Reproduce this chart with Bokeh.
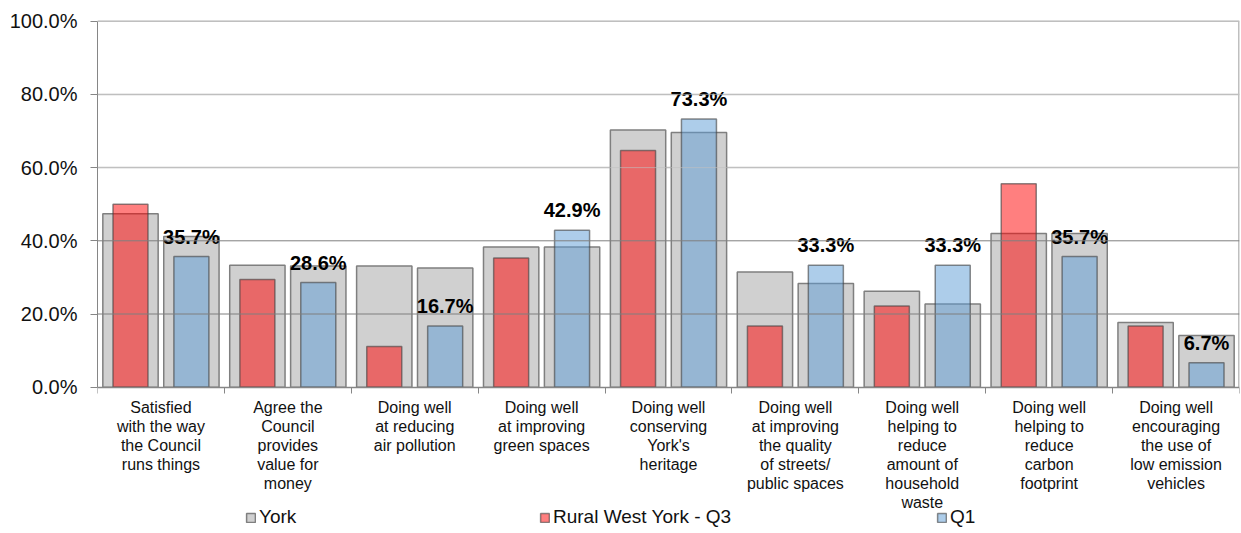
import numpy as np
from bokeh.plotting import figure
from bokeh.models import (Range1d, FixedTicker, CustomJSTickFormatter, PrintfTickFormatter,
                          Span, LabelSet, ColumnDataSource, Legend, LegendItem)
from bokeh.core.properties import value
from bokeh.embed import file_html
from bokeh.resources import INLINE

# ---------------- data ----------------
categories = [
    "Satisfied\nwith the way\nthe Council\nruns things",
    "Agree the\nCouncil\nprovides\nvalue for\nmoney",
    "Doing well\nat reducing\nair pollution",
    "Doing well\nat improving\ngreen spaces",
    "Doing well\nconserving\nYork's\nheritage",
    "Doing well\nat improving\nthe quality\nof streets/\npublic spaces",
    "Doing well\nhelping to\nreduce\namount of\nhousehold\nwaste",
    "Doing well\nhelping to\nreduce\ncarbon\nfootprint",
    "Doing well\nencouraging\nthe use of\nlow emission\nvehicles",
]
york_q3 = [47.4, 33.3, 33.1, 38.3, 70.3, 31.5, 26.2, 42.0, 17.7]
york_q1 = [41.2, 33.1, 32.6, 38.3, 69.6, 28.3, 22.7, 42.0, 14.1]
rural_q3 = [50.0, 29.4, 11.1, 35.3, 64.7, 16.7, 22.2, 55.6, 16.7]
q1 = [35.7, 28.6, 16.7, 42.9, 73.3, 33.3, 33.3, 35.7, 6.7]
y_ticks = [0, 20, 40, 60, 80, 100]
series_names = ["York", "Rural West York - Q3", "Q1"]

# ---------------- layout params ----------------
OFF = 0.24
WIDE = 0.436
NARROW = 0.276
FONT = "Liberation Sans"
W, H = 1241, 533
FRAME_TOP = 17          # px from top of canvas
ZERO_PX = 386.7         # where 0% sits
TOP_PX = 20.7           # where 100% sits

n = len(categories)
centers = np.arange(n) + 0.5
px_per_unit = (ZERO_PX - TOP_PX) / (y_ticks[-1] - y_ticks[0])
y_end = y_ticks[-1] + (TOP_PX - FRAME_TOP) / px_per_unit
y_start = y_ticks[0] - (H - ZERO_PX) / px_per_unit

p = figure(width=W, height=H, output_backend="svg", toolbar_location=None,
           x_range=Range1d(0, n), y_range=Range1d(y_start, y_end),
           min_border_left=97, min_border_right=2, min_border_top=FRAME_TOP,
           min_border_bottom=0)
p.outline_line_color = None
p.xgrid.grid_line_color = None
p.ygrid.grid_line_color = None
p.background_fill_color = "white"
p.border_fill_color = "white"

grey_src = ColumnDataSource(dict(x=np.concatenate([centers - OFF, centers + OFF]),
                                 top=np.array(york_q3 + york_q1)))
red_src = ColumnDataSource(dict(x=centers - OFF, top=rural_q3))
blue_src = ColumnDataSource(dict(x=centers + OFF, top=q1,
                                 lbl=[f"{v:.1f}%" for v in q1]))

# light grid lines behind / right border of the plot area
for t in y_ticks[1:]:
    if t > 40:
        p.add_layout(Span(location=t, dimension="width", line_color="#bfbfbf",
                          line_width=1.5, level="underlay"))
p.segment(x0=[n], x1=[n], y0=[y_ticks[0]], y1=[y_ticks[-1]],
          line_color="#bfbfbf", line_width=3)

r_grey = p.vbar(x="x", top="top", bottom=0, width=WIDE, source=grey_src,
                fill_color="#d0d0d0", line_color="#7f7f7f", line_width=1.5)
r_red = p.vbar(x="x", top="top", bottom=0, width=NARROW, source=red_src,
               fill_color="#ff0000", fill_alpha=0.5, line_color="#404040",
               line_alpha=0.6, line_width=1.5)
r_blue = p.vbar(x="x", top="top", bottom=0, width=NARROW, source=blue_src,
                fill_color="#5b9bd5", fill_alpha=0.5, line_color="#404040",
                line_alpha=0.6, line_width=1.5)

# dark grid lines drawn over the bars
for t in y_ticks[1:]:
    if t <= 40:
        p.add_layout(Span(location=t, dimension="width", line_color="#7f7f7f",
                          line_width=1, level="overlay"))
    else:
        p.add_layout(Span(location=t, dimension="width", line_color="#bfbfbf",
                          line_width=1, line_alpha=0.6, level="overlay"))

labels = LabelSet(x="x", y="top", text="lbl", source=blue_src, y_offset=20,
                  text_align="center", text_baseline="middle",
                  text_font=value(FONT), text_font_style="bold",
                  text_font_size="20px", text_color="black")
p.add_layout(labels)

# y axis
p.yaxis.ticker = FixedTicker(ticks=y_ticks)
p.yaxis.bounds = (y_ticks[0], y_ticks[-1])
p.yaxis.formatter = PrintfTickFormatter(format="%.1f%%")
p.yaxis.axis_line_color = "#868686"
p.yaxis.major_tick_line_color = "#868686"
p.yaxis.major_tick_out = 7
p.yaxis.major_tick_in = 0
p.yaxis.minor_tick_line_color = None
p.yaxis.major_label_text_font = FONT
p.yaxis.major_label_text_font_size = "20px"
p.yaxis.major_label_text_color = "#111111"
p.yaxis.major_label_standoff = 13

# x axis (drawn at 0%)
p.xaxis.fixed_location = y_ticks[0]
p.xaxis.ticker = FixedTicker(ticks=list(centers), minor_ticks=list(range(n + 1)))
p.xaxis.formatter = CustomJSTickFormatter(args=dict(labels=categories),
                                          code="return labels[Math.floor(tick)] || '';")
p.xaxis.axis_line_color = "#868686"
p.xaxis.axis_line_width = 1.5
p.xaxis.major_tick_line_color = None
p.xaxis.major_tick_out = 0
p.xaxis.major_tick_in = 0
p.xaxis.minor_tick_line_color = "#868686"
p.xaxis.minor_tick_out = 6
p.xaxis.minor_tick_in = 0
p.xaxis.major_label_text_font = FONT
p.xaxis.major_label_text_font_size = "16px"
p.xaxis.major_label_text_line_height = 1.12
p.xaxis.major_label_text_color = "#111111"
p.xaxis.major_label_standoff = 6

# legends (one per series, placed like the original)
leg_x = [148, 442, 839]
for name, rend, lx in zip(series_names, [r_grey, r_red, r_blue], leg_x):
    lg = Legend(items=[LegendItem(label=name, renderers=[rend])],
                location=(lx, 5), orientation="horizontal",
                border_line_color=None, background_fill_alpha=0,
                label_text_font=FONT, label_text_font_size="19px",
                label_text_color="#111111",
                glyph_width=11, glyph_height=11, label_standoff=3,
                padding=0, margin=0, spacing=0, label_height=16)
    p.add_layout(lg)

open("out.html", "w").write(file_html(p, INLINE))
